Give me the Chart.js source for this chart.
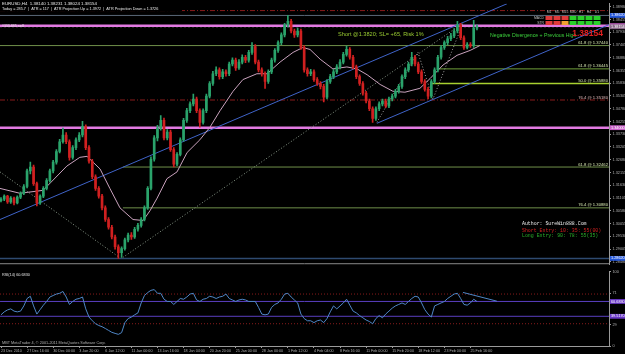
<!DOCTYPE html>
<html><head><meta charset="utf-8">
<script src="https://cdn.jsdelivr.net/npm/chart.js@4.4.1/dist/chart.umd.min.js"></script>
<style>
html,body{margin:0;padding:0;background:#000;width:625px;height:354px;overflow:hidden}
#c1{position:absolute;left:0;top:0;width:625px;height:268px}
#c2{position:absolute;left:0;top:268px;width:625px;height:86px}
</style></head>
<body>
<canvas id="c1" width="625" height="268"></canvas>
<canvas id="c2" width="625" height="86"></canvas>
<script>
// ---------------- DATA ----------------
const firstOpen = 1.3100;
const closes = [1.3106,1.3118,1.3094,1.3110,1.3090,1.3114,1.3130,1.3158,1.3222,1.3238,
1.3170,1.3090,1.3118,1.3150,1.3182,1.3222,1.3258,1.3302,1.3342,1.3370,
1.3342,1.3278,1.3318,1.3350,1.3370,1.3406,1.3318,1.3262,1.3198,1.3150,
1.3118,1.3070,1.3022,1.2990,1.2950,1.2910,1.2886,1.2902,1.2938,1.2958,
1.2950,1.2982,1.2998,1.3022,1.3070,1.3150,1.3270,1.3358,1.3398,1.3430,
1.3358,1.3382,1.3310,1.3250,1.3290,1.3350,1.3430,1.3470,1.3498,1.3518,
1.3470,1.3422,1.3470,1.3530,1.3582,1.3622,1.3638,1.3610,1.3630,1.3622,
1.3662,1.3678,1.3646,1.3670,1.3690,1.3678,1.3710,1.3734,1.3670,1.3638,
1.3622,1.3590,1.3630,1.3678,1.3718,1.3750,1.3782,1.3822,1.3838,1.3798,
1.3782,1.3798,1.3730,1.3638,1.3622,1.3630,1.3598,1.3582,1.3570,1.3526,
1.3590,1.3610,1.3630,1.3650,1.3670,1.3702,1.3722,1.3690,1.3650,1.3610,
1.3582,1.3542,1.3510,1.3478,1.3438,1.3478,1.3498,1.3510,1.3490,1.3518,
1.3530,1.3550,1.3570,1.3610,1.3638,1.3662,1.3690,1.3662,1.3630,1.3590,
1.3558,1.3530,1.3590,1.3638,1.3690,1.3730,1.3750,1.3766,1.3778,1.3798,
1.3822,1.3770,1.3730,1.3742,1.3738,1.3810,1.3815];
const highs = [1.3112,1.3124,1.3122,1.3116,1.3114,1.3120,1.3136,1.3166,1.3230,1.3258,
1.3246,1.3176,1.3124,1.3158,1.3190,1.3230,1.3266,1.3310,1.3352,1.3398,
1.3380,1.3350,1.3326,1.3358,1.3380,1.3426,1.3412,1.3326,1.3270,1.3206,
1.3158,1.3126,1.3078,1.3030,1.2998,1.2958,1.2918,1.2910,1.2946,1.2966,
1.2968,1.2990,1.3006,1.3030,1.3078,1.3158,1.3280,1.3368,1.3410,1.3450,
1.3440,1.3392,1.3390,1.3318,1.3298,1.3358,1.3438,1.3480,1.3506,1.3538,
1.3526,1.3478,1.3478,1.3538,1.3590,1.3632,1.3650,1.3646,1.3640,1.3638,
1.3670,1.3688,1.3686,1.3680,1.3700,1.3698,1.3718,1.3750,1.3742,1.3678,
1.3646,1.3630,1.3638,1.3686,1.3726,1.3758,1.3790,1.3830,1.3862,1.3846,
1.3806,1.3810,1.3806,1.3738,1.3646,1.3640,1.3638,1.3606,1.3590,1.3578,
1.3598,1.3620,1.3640,1.3660,1.3680,1.3710,1.3736,1.3730,1.3698,1.3658,
1.3618,1.3590,1.3550,1.3518,1.3486,1.3486,1.3506,1.3518,1.3518,1.3526,
1.3538,1.3558,1.3578,1.3618,1.3646,1.3670,1.3710,1.3698,1.3670,1.3638,
1.3598,1.3566,1.3598,1.3646,1.3698,1.3738,1.3758,1.3776,1.3788,1.3808,
1.3838,1.3830,1.3778,1.3750,1.3750,1.3842,1.3823];
const lows = [1.3094,1.3100,1.3088,1.3088,1.3082,1.3086,1.3108,1.3124,1.3152,1.3210,
1.3162,1.3078,1.3084,1.3112,1.3144,1.3176,1.3214,1.3250,1.3296,1.3336,
1.3334,1.3266,1.3270,1.3310,1.3342,1.3362,1.3310,1.3254,1.3190,1.3142,
1.3110,1.3062,1.3014,1.2982,1.2942,1.2900,1.2862,1.2866,1.2896,1.2930,
1.2940,1.2944,1.2974,1.2990,1.3016,1.3064,1.3144,1.3262,1.3346,1.3390,
1.3350,1.3350,1.3302,1.3238,1.3244,1.3284,1.3344,1.3422,1.3462,1.3490,
1.3462,1.3402,1.3414,1.3462,1.3522,1.3574,1.3614,1.3600,1.3602,1.3612,
1.3614,1.3654,1.3636,1.3640,1.3662,1.3668,1.3670,1.3702,1.3662,1.3630,
1.3612,1.3562,1.3582,1.3622,1.3670,1.3710,1.3742,1.3774,1.3814,1.3790,
1.3772,1.3774,1.3722,1.3628,1.3612,1.3614,1.3590,1.3574,1.3560,1.3506,
1.3518,1.3582,1.3602,1.3622,1.3642,1.3662,1.3694,1.3682,1.3642,1.3602,
1.3574,1.3534,1.3502,1.3470,1.3422,1.3430,1.3470,1.3490,1.3482,1.3482,
1.3510,1.3522,1.3542,1.3562,1.3602,1.3630,1.3654,1.3654,1.3622,1.3582,
1.3550,1.3518,1.3522,1.3582,1.3630,1.3682,1.3722,1.3742,1.3758,1.3770,
1.3790,1.3762,1.3722,1.3724,1.3730,1.3730,1.3802];
const rsiValues = [42,46,48.6,50,47,46,47,54,64,67,54,43,49,55,60,66,68,70,71,73.5,
66,56,60,63,64,66,50,39,34,30,27.6,26,23.6,21,18.4,17,15.7,18,31.5,37,
39,42,44.6,58,68,72,75,76,71,71,63,60,60,56,60,64,63,66,70,71,
62,60,63,64,67,66,64,66,67,70,64,62,60,62,63,62,60,60,60,52,
43,42,43,52,56,58,63,70,71,66,62,58,43,37,34,34,31.5,34,35,31.5,
37,46,54,50,54,58,63,55,47,44.6,41,38,35,33,30,37,41,38,43,47,
51,54,56,58,56,60,64,67,66,58,49,43,39,54,56,58,60,64,67,70,
71,64,56,55,58,63,60];
// moving average: bar position / price
const maBars   = [-0.3,5.8,12.9,20.2,24.2,26.4,30.4,33.4,36.5,40.5,43.6,45.7,47.9,50.9,54.0,57.1,61.0,64.1,67.2,71.2,74.2,78.5,81.6,85.6,89.6,92.6,94.8,97.9,101.8,106.1,109.2,112.3,116.3,120.2,123.9,128.5,131.6,135.6,139.9,143.9,146.9];
const maPrices = [1.3150,1.3130,1.3142,1.3242,1.3278,1.3282,1.3230,1.3150,1.3070,1.3022,1.3018,1.3058,1.3110,1.3190,1.3218,1.3298,1.3350,1.3402,1.3470,1.3550,1.3598,1.3622,1.3622,1.3670,1.3710,1.3730,1.3722,1.3682,1.3642,1.3650,1.3642,1.3618,1.3578,1.3550,1.3546,1.3562,1.3602,1.3658,1.3698,1.3718,1.3738];
// trend lines: [bar, price, bar, price]
const trendMain    = [-0.3,1.3022,155.2,1.3910];
const trendLower   = [115.3,1.3418,186.5,1.3824];
const fibDown      = [-0.3,1.3218,35.9,1.2870];
const fibUp        = [37.4,1.2866,141.7,1.3830];
const zigBars      = [115.3,127.9,132.5,141.7];
const zigPrices    = [1.3422,1.3710,1.3518,1.3830];
// horizontal levels
const hLevels   = [1.3882,1.3862,1.3820,1.38154,1.3738,1.3642,1.3582,1.3514,1.3400,1.3238,1.3070,1.2862];
const hStartBar = [-0.3,-0.3,-0.3,-0.3,-0.3,133.7,131.6,-0.3,-0.3,37.4,37.4,-0.3];
const fibTexts  = ['61.8 @ 1.37440','61.8 @ 1.36445','50.0 @ 1.35880','76.4 @ 1.35180','61.8 @ 1.32462','76.4 @ 1.30880'];
const fibPrices = [1.3738,1.3642,1.3582,1.3514,1.3238,1.3070];
const priceTicks = [1.38980,1.38455,1.37930,1.37405,1.36880,1.36355,1.35830,1.35305,1.34780,1.34255,1.33730,1.33205,1.32680,1.32155,1.31630,1.31105,1.30580,1.30055,1.29530,1.29005,1.28480];
const axisBoxPrices = [1.3862,1.3820,1.38154,1.3400,1.2862];
const axisBoxTexts  = ['1.38620','1.38200','1.38154','1.34000','1.28620'];
const timeLabels = ['23 Dec 2010','27 Dec 16:00','30 Dec 00:00','3 Jan 20:00','6 Jan 12:00','11 Jan 00:00','13 Jan 16:00','18 Jan 04:00','20 Jan 20:00','25 Jan 00:00','28 Jan 00:00','1 Feb 12:00','4 Feb 04:00','8 Feb 16:00','11 Feb 00:00','15 Feb 20:00','18 Feb 12:00','23 Feb 00:00','25 Feb 16:00'];
const timeTickBars = [0,8,16,24,32,40,48,56,64,72,80,88,96,104,112,120,128,136,144];
const rsiTicks = [100,71,29,0];
const rsiLevels = [70,30,60,40];
const rsiBoxValues = [60,40];
const rsiBoxTexts = ['60.6830','39.5170'];
const rsiDiverg = [141.7,72.2,152.1,60.4];
const signalTF = ['M1','M5','M15','M30','H1','H4','D1'];
const signalRows = ['MACD','STR'];
const signalStates = [['dn','dn','dn','up','up','up','up'],['dn','dn','mid','up','up','up','up']];
const headerLine1 = 'EURUSD,H4  1.38140 1.38231 1.38024 1.38154';
const headerLine2 = 'Today = 285.7  |  ATR = 117  |  ATR Projection Up = 1.3972  |  ATR Projection Down = 1.3726';
const notes = [
  {text:'Short @1.3820; SL= +65, Risk 1%', bar:103.4, price:1.3782},
  {text:'Negative Divergence + Previous High', bar:150.0, price:1.3778},
  {text:'1.38154', bar:175.2, price:1.3786},
  {text:'Author: SureWin888.Com', bar:159.8, price:1.3006},
  {text:'Short Entry: 10: 35: 55(00)', bar:159.8, price:1.2978},
  {text:'Long Entry: 90: 78: 55(35)', bar:159.8, price:1.2954}
];

// ---------------- STYLES / BUILD ----------------
Chart.defaults.font.family = '"Liberation Sans", Arial, sans-serif';
const X_MIN = -0.3, X_MAX = 186.5;
const BULL = '#2aa36b', BEAR = '#d02020';
const opens = closes.map((c,i)=> i===0 ? firstOpen : closes[i-1]);
const candleColors = closes.map((c,i)=> c>=opens[i] ? BULL : BEAR);
const wickData = closes.map((c,i)=>({x:i, y:[lows[i], highs[i]]}));
const bodyData = closes.map((c,i)=>({x:i, y:[opens[i], c]}));

const hStyles = [
  {c:'#8a1c1c',w:1,d:[5,2,1,2]},
  {c:'#5a6878',w:1,d:[]},
  {c:'#e27ae2',w:2.5,d:[]},
  {c:'#707070',w:1,d:[2,2]},
  {c:'#6f8f4a',w:1,d:[]},
  {c:'#6f9f3a',w:1,d:[]},
  {c:'#a8d030',w:1.5,d:[]},
  {c:'#8a1c1c',w:1,d:[5,2,1,2]},
  {c:'#e27ae2',w:2.5,d:[]},
  {c:'#6f8f4a',w:1,d:[]},
  {c:'#6f8f4a',w:1,d:[]},
  {c:'#2e4a70',w:1.5,d:[]}
];
const lineDs = (pts,color,width,dash,order)=>({type:'line',data:pts,borderColor:color,borderWidth:width,borderDash:dash||[],pointRadius:0,fill:false,tension:0,order:order||5});

const ds1 = [
  {type:'bar',data:bodyData,backgroundColor:candleColors,barThickness:2,grouped:false,order:1},
  {type:'bar',data:wickData,backgroundColor:candleColors,barThickness:1,grouped:false,order:2},
  lineDs(maBars.map((b,i)=>({x:b,y:maPrices[i]})),'#c9a2bd',1,[],3),
  lineDs([{x:trendMain[0],y:trendMain[1]},{x:trendMain[2],y:trendMain[3]}],'#3f63c8',1,[],4),
  lineDs([{x:trendLower[0],y:trendLower[1]},{x:trendLower[2],y:trendLower[3]}],'#3f63c8',1,[],4),
  lineDs([{x:fibDown[0],y:fibDown[1]},{x:fibDown[2],y:fibDown[3]}],'#8a9a8a',1,[1,2],4),
  lineDs([{x:fibUp[0],y:fibUp[1]},{x:fibUp[2],y:fibUp[3]}],'#8a9a8a',1,[1,2],4),
  lineDs(zigBars.map((b,i)=>({x:b,y:zigPrices[i]})),'#a0a0a0',1,[1,2],4)
];
hLevels.forEach((p,i)=>{
  const s = hStyles[i];
  ds1.push(lineDs([{x:hStartBar[i],y:p},{x:X_MAX,y:p}],s.c,s.w,s.d,6));
});

const overlay1 = {
  id:'overlay1',
  afterDraw(chart){
    const {ctx, chartArea:ca, scales:{x,y}} = chart;
    ctx.save();
    // panel bottom border
    ctx.strokeStyle='#8a8a8a'; ctx.lineWidth=1;
    ctx.beginPath(); ctx.moveTo(0,ca.bottom-0.5); ctx.lineTo(ca.right,ca.bottom-0.5); ctx.stroke();
    // header
    ctx.fillStyle='#000'; ctx.fillRect(0,0,182,11);
    ctx.fillStyle='#e8e8e8'; ctx.textAlign='left'; ctx.textBaseline='middle';
    ctx.font='4.4px "Liberation Sans"';
    ctx.fillText(headerLine1,2,3.5);
    ctx.font='3.8px "Liberation Sans"';
    ctx.fillText(headerLine2,2,8.5);
    ctx.fillText('#155485 sell',2,y.getPixelForValue(1.3820));
    // fib labels
    ctx.textAlign='right'; ctx.textBaseline='bottom'; ctx.font='4.2px "Liberation Sans"';
    fibTexts.forEach((t,i)=>{
      ctx.fillStyle = i===3 ? '#e0b8b8' : '#d6e6b0';
      ctx.fillText(t, ca.right-1, y.getPixelForValue(fibPrices[i])-0.5);
    });
    // notes
    ctx.textAlign='left'; ctx.textBaseline='middle';
    notes.forEach((n,i)=>{
      const px = x.getPixelForValue(n.bar), py = y.getPixelForValue(n.price);
      if(i===0){ctx.fillStyle='#9acd32'; ctx.font='5.6px "Liberation Sans"';}
      else if(i===1){ctx.fillStyle='#3ccf3c'; ctx.font='5.2px "Liberation Sans"';}
      else if(i===2){ctx.fillStyle='#e02020'; ctx.font='bold 8.5px "Liberation Sans"';}
      else if(i===3){ctx.fillStyle='#e8e8e8'; ctx.font='4.9px "Liberation Mono"';}
      else if(i===4){ctx.fillStyle='#d02020'; ctx.font='4.9px "Liberation Mono"';}
      else {ctx.fillStyle='#2ab02a'; ctx.font='4.9px "Liberation Mono"';}
      ctx.fillText(n.text, px, py);
    });
    // signal table
    const colMap = {dn:'#e03a3a', mid:'#f0a030', up:'#2ad02a'};
    const tx0 = 545, cw = 8, ty0 = 16;
    ctx.font='3.4px "Liberation Sans"'; ctx.textAlign='center'; ctx.fillStyle='#c0c0c0';
    signalTF.forEach((t,j)=> ctx.fillText(t, tx0+j*cw+cw/2, 12.5));
    signalRows.forEach((r,k)=>{
      ctx.textAlign='right'; ctx.fillStyle='#c0c0c0';
      ctx.fillText(r, tx0-1, ty0+k*5+2);
      signalStates[k].forEach((s,j)=>{
        ctx.fillStyle = colMap[s];
        ctx.fillRect(tx0+j*cw+0.5, ty0+k*5, cw-1, 4);
      });
    });
    // axis boxes
    ctx.font='3.8px "Liberation Sans"'; ctx.textAlign='left'; ctx.textBaseline='middle';
    const boxBg = ['#2456d8','#c860c8','#8a6a8a','#c860c8','#2456d8'];
    axisBoxPrices.forEach((p,i)=>{
      const py = y.getPixelForValue(p);
      ctx.fillStyle = boxBg[i]; ctx.fillRect(ca.right+1, py-2.4, 625-ca.right, 4.8);
      ctx.fillStyle = '#ffffff'; ctx.fillText(axisBoxTexts[i], ca.right+2, py);
    });
    ctx.restore();
  }
};

new Chart(document.getElementById('c1'), {
  type:'bar',
  data:{datasets:ds1},
  options:{
    responsive:false, animation:false, maintainAspectRatio:false,
    layout:{padding:0},
    plugins:{legend:{display:false}, tooltip:{enabled:false}},
    scales:{
      x:{type:'linear', min:X_MIN, max:X_MAX, display:false, offset:false},
      y:{type:'linear', position:'right', min:1.2838, max:1.3910,
         afterBuildTicks:s=>{s.ticks = priceTicks.map(v=>({value:v}));},
         afterFit:s=>{s.width = 16;},
         ticks:{color:'#b0b0b0', font:{size:3.8}, padding:1.5, autoSkip:false, callback:v=>v.toFixed(5)},
         grid:{display:true, drawOnChartArea:false, tickLength:2, color:'#9a9a9a'},
         border:{display:true, color:'#9a9a9a', width:1}}
    }
  },
  plugins:[overlay1]
});

// ---------------- RSI ----------------
const rsiLevelStyles = [{c:'#8a1c1c',d:[1,2]},{c:'#8a1c1c',d:[1,2]},{c:'#5a3fc0',d:[]},{c:'#5a3fc0',d:[]}];
const ds2 = [
  lineDs(rsiValues.map((v,i)=>({x:i,y:v})),'#4f86c6',1,[],1),
  lineDs([{x:rsiDiverg[0],y:rsiDiverg[1]},{x:rsiDiverg[2],y:rsiDiverg[3]}],'#4f86c6',1,[],1)
];
rsiLevels.forEach((v,i)=>ds2.push(lineDs([{x:X_MIN,y:v},{x:X_MAX,y:v}],rsiLevelStyles[i].c,1,rsiLevelStyles[i].d,5)));

const overlay2 = {
  id:'overlay2',
  afterDraw(chart){
    const {ctx, chartArea:ca, scales:{y}} = chart;
    ctx.save();
    ctx.font='3.8px "Liberation Sans"'; ctx.textAlign='left'; ctx.textBaseline='middle';
    ctx.fillStyle='#e0e0e0';
    ctx.fillText('RSI(14) 60.6830', 2, ca.top+3);
    ctx.fillStyle='#b0b0b0';
    ctx.fillText('MBT MetaTrader 4, \u00a9 2001-2011 MetaQuotes Software Corp.', 2, ca.bottom-3);
    rsiBoxValues.forEach((v,i)=>{
      const py = y.getPixelForValue(v);
      ctx.fillStyle='#6a38c8'; ctx.fillRect(ca.right+1, py-2.4, 625-ca.right, 4.8);
      ctx.fillStyle='#ffffff'; ctx.fillText(rsiBoxTexts[i], ca.right+2, py);
    });
    ctx.restore();
  }
};

new Chart(document.getElementById('c2'), {
  type:'line',
  data:{datasets:ds2},
  options:{
    responsive:false, animation:false, maintainAspectRatio:false,
    layout:{padding:{top:2,left:0,right:0,bottom:0}},
    plugins:{legend:{display:false}, tooltip:{enabled:false}},
    scales:{
      x:{type:'linear', min:X_MIN, max:X_MAX, position:'bottom', offset:false,
         afterBuildTicks:s=>{s.ticks = timeTickBars.map(v=>({value:v}));},
         afterFit:s=>{s.height = 8;},
         ticks:{color:'#b0b0b0', font:{size:3.7}, padding:1, autoSkip:false, maxRotation:0, align:'start',
                callback:(v,i)=>timeLabels[i]},
         grid:{display:true, drawOnChartArea:false, tickLength:2, color:'#9a9a9a'},
         border:{display:true, color:'#9a9a9a', width:1}},
      y:{type:'linear', position:'right', min:0, max:100,
         afterBuildTicks:s=>{s.ticks = rsiTicks.map(v=>({value:v}));},
         afterFit:s=>{s.width = 16;},
         ticks:{color:'#b0b0b0', font:{size:3.8}, padding:1.5, autoSkip:false, callback:v=>String(v)},
         grid:{display:true, drawOnChartArea:false, tickLength:2, color:'#9a9a9a'},
         border:{display:true, color:'#9a9a9a', width:1}}
    }
  },
  plugins:[overlay2]
});
</script>
</body></html>
